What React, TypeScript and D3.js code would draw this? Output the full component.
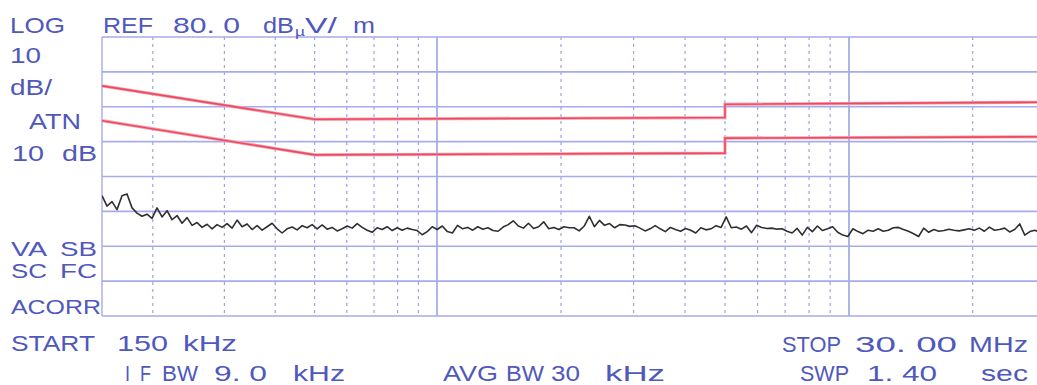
import React from "react";
import * as d3 from "d3";

// ---- data ----
const START_MHZ = 0.15;
const STOP_MHZ = 30;
const DB_TICKS = [0, 10, 20, 30, 40, 50, 60, 70, 80];
const FREQ_SOLID = [1, 10];
const FREQ_DASHED = [0.2, 0.3, 0.4, 0.5, 0.6, 0.7, 0.8, 0.9, 2, 3, 4, 5, 6, 7, 8, 9, 20];

// Limit lines (frequency MHz, level dBµV/m)
const LIMIT_FREQ = [0.15, 0.5, 5, 5, 30];
const LIMIT_QP = [66, 56.4, 56.9, 60.7, 61.3];
const LIMIT_AV = [56, 46.2, 46.7, 51, 51.4];

// Measured trace (dBµV/m), sweep points from 150 kHz to 30 MHz
const TRACE_DB = [
  34.5, 31.5, 32.8, 30.5, 34.5, 35.0, 31.0, 29.5, 28.6, 29.2, 28.0, 31.0, 28.4, 30.2, 27.6, 28.8,
  26.6, 28.2, 26.0, 26.8, 25.4, 26.3, 25.0, 26.2, 25.4, 26.5, 25.2, 27.5, 25.6, 26.4, 24.8, 25.9, 24.6,
  25.6, 26.6, 25.0, 23.8, 25.0, 25.5, 24.7, 25.9, 25.3, 26.2, 25.0, 26.1, 24.9, 25.4, 24.4, 25.0,
  25.8, 25.2, 26.5, 25.4, 24.6, 24.0, 25.3, 24.8, 25.6, 24.5, 25.3, 24.6, 25.2, 24.8,
  24.5, 23.3, 24.2, 25.6, 24.8, 25.8, 24.2, 23.8, 26.0, 25.0, 25.4, 24.6, 25.6, 24.9, 25.3, 24.5,
  24.3, 25.5, 26.2, 27.3, 25.8, 25.2, 26.6, 25.1, 25.6, 27.0, 25.0, 25.4, 24.8, 25.6, 25.3,
  25.3, 24.4, 25.8, 28.6, 25.6, 27.4, 26.0, 26.5, 25.3, 26.2, 26.1, 25.7, 25.9, 25.2, 24.4, 25.0,
  25.9, 25.0, 24.2, 25.4, 24.8, 24.3, 25.1, 24.6, 23.8, 25.3, 24.7, 25.0, 25.9, 25.4, 28.4,
  25.3, 25.5, 24.9, 25.8, 23.9, 26.0, 25.4, 25.1, 25.2, 24.9, 25.0, 24.3, 23.8, 25.1, 23.2, 25.4,
  24.2, 25.8, 24.5, 25.0, 25.6, 24.0, 23.2, 22.8, 25.0, 24.2, 23.6, 24.6, 24.3, 25.0, 24.3,
  24.6, 25.3, 25.4, 24.8, 24.3, 23.6, 22.8, 25.2, 24.0, 24.8, 24.3, 24.5, 24.9, 24.6, 24.4, 24.7,
  25.0, 24.6, 25.2, 24.3, 25.5, 24.6, 24.8, 25.2, 24.1, 24.8, 26.4, 23.2, 24.2, 24.6, 23.9, 24.4,
];

const W = 1037;
const H = 385;
const LEFT = 102;
const TOP = 37;
const BOTTOM = 316;

const TEXT_COLOR = "#4f58bd";
const GRID_COLOR = "#a6abea";

type Lbl = { t: string; x: number; y: number; w: number; fs?: number };

const LABELS: Lbl[] = [
  { t: "LOG", x: 10, y: 33, w: 55 },
  { t: "REF", x: 103, y: 33, w: 50 },
  { t: "80. 0", x: 173, y: 33, w: 67 },
  { t: "dB", x: 263, y: 33, w: 31 },
  { t: "µ", x: 295, y: 36, w: 10, fs: 13 },
  { t: "V/", x: 305, y: 33, w: 32 },
  { t: "m", x: 353, y: 33, w: 22 },
  { t: "10", x: 10, y: 63, w: 31 },
  { t: "dB/", x: 10, y: 95, w: 42 },
  { t: "ATN", x: 29, y: 129, w: 52 },
  { t: "10", x: 12, y: 161, w: 32 },
  { t: "dB", x: 62, y: 161, w: 35 },
  { t: "VA", x: 11, y: 256, w: 36, fs: 20 },
  { t: "SB", x: 60, y: 256, w: 37, fs: 20 },
  { t: "SC", x: 11, y: 278, w: 36, fs: 20 },
  { t: "FC", x: 60, y: 278, w: 37, fs: 20 },
  { t: "ACORR", x: 11, y: 314, w: 90, fs: 21 },
  { t: "START", x: 11, y: 351, w: 84 },
  { t: "150", x: 117, y: 351, w: 51 },
  { t: "kHz", x: 183, y: 351, w: 54 },
  { t: "I", x: 125, y: 381, w: 5 },
  { t: "F", x: 140, y: 381, w: 11 },
  { t: "BW", x: 162, y: 381, w: 36 },
  { t: "9. 0", x: 214, y: 381, w: 53 },
  { t: "kHz", x: 293, y: 381, w: 52 },
  { t: "AVG", x: 443, y: 381, w: 55 },
  { t: "BW", x: 506, y: 381, w: 38 },
  { t: "30", x: 551, y: 381, w: 29 },
  { t: "kHz", x: 605, y: 381, w: 60 },
  { t: "STOP", x: 782, y: 352, w: 59 },
  { t: "30. 00", x: 855, y: 352, w: 102 },
  { t: "MHz", x: 969, y: 352, w: 59 },
  { t: "SWP", x: 800, y: 381, w: 49 },
  { t: "1. 40", x: 867, y: 381, w: 70 },
  { t: "sec", x: 981, y: 381, w: 47 },
];

export default function App() {
  const x = d3
    .scaleLog()
    .domain([START_MHZ, 1, 10, STOP_MHZ])
    .range([LEFT, 437, 849, 1045]);
  const y = d3.scaleLinear().domain([0, 80]).range([BOTTOM, TOP]);

  const n = TRACE_DB.length;
  const traceFreq = TRACE_DB.map((_, i) => START_MHZ * Math.pow(STOP_MHZ / START_MHZ, i / (n - 1)));

  const line = d3
    .line<[number, number]>()
    .x((d) => x(d[0]))
    .y((d) => y(d[1]));

  const qp = LIMIT_FREQ.map((f, i) => [f, LIMIT_QP[i]] as [number, number]);
  const av = LIMIT_FREQ.map((f, i) => [f, LIMIT_AV[i]] as [number, number]);
  const trace = TRACE_DB.map((v, i) => [traceFreq[i], v] as [number, number]);

  return (
    <svg
      width={W}
      height={H}
      style={{ position: "absolute", left: 0, top: 0, background: "#fff" }}
      fontFamily="'Liberation Sans', Arial, sans-serif"
    >
      <rect x={0} y={0} width={W} height={H} fill="#fff" />
      <defs>
        <clipPath id="plot">
          <rect x={LEFT} y={TOP - 2} width={W - LEFT} height={BOTTOM - TOP + 4} />
        </clipPath>
      </defs>
      {/* dashed verticals */}
      {FREQ_DASHED.map((f) => (
        <line
          key={"d" + f}
          x1={x(f)}
          x2={x(f)}
          y1={TOP}
          y2={BOTTOM}
          stroke="#9ca2e2"
          strokeWidth={1.2}
          strokeDasharray="3,4"
        />
      ))}
      {/* solid verticals */}
      {FREQ_SOLID.map((f) => (
        <line key={"s" + f} x1={x(f)} x2={x(f)} y1={TOP} y2={BOTTOM} stroke="#8e95df" strokeWidth={1.4} />
      ))}
      {/* horizontals */}
      {DB_TICKS.map((v) => (
        <line key={"h" + v} x1={LEFT} x2={W} y1={y(v)} y2={y(v)} stroke={GRID_COLOR} strokeWidth={1.6} />
      ))}
      <line x1={LEFT} x2={LEFT} y1={TOP} y2={BOTTOM} stroke={GRID_COLOR} strokeWidth={1.4} />

      <g clipPath="url(#plot)">
        <path d={line(qp) || ""} fill="none" stroke="#f7a0ae" strokeWidth={3.2} />
        <path d={line(qp) || ""} fill="none" stroke="#ec4a62" strokeWidth={1.6} />
        <path d={line(av) || ""} fill="none" stroke="#f7a0ae" strokeWidth={3.2} />
        <path d={line(av) || ""} fill="none" stroke="#ec4a62" strokeWidth={1.6} />
        <path d={line(trace) || ""} fill="none" stroke="#332e2e" strokeWidth={1.6} strokeLinejoin="round" />
      </g>

      {LABELS.map((l, i) => (
        <text
          key={i}
          x={l.x}
          y={l.y}
          fontSize={l.fs ?? 22}
          fill={TEXT_COLOR}
          textLength={l.w}
          lengthAdjust="spacingAndGlyphs"
        >
          {l.t}
        </text>
      ))}
    </svg>
  );
}
